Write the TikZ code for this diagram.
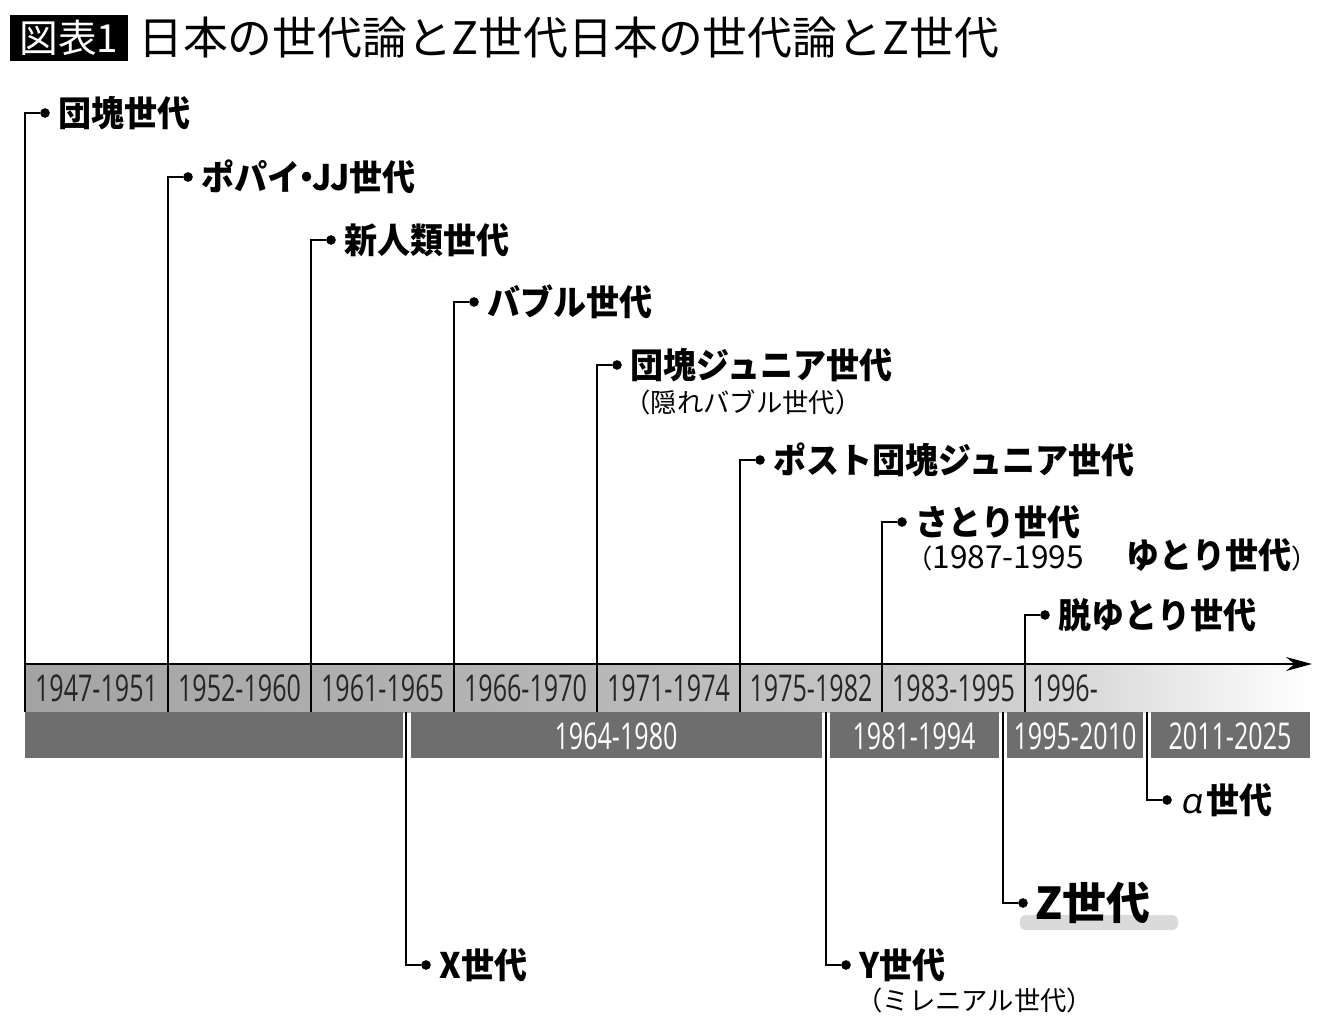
\documentclass[tikz,border=0pt]{standalone}
\usepackage{fontspec}
\usetikzlibrary{positioning,arrows.meta}
\newfontfamily\jp{Noto Sans CJK JP}
\newfontfamily\jpl[FakeStretch=0.94]{Noto Sans CJK JP}
\newfontfamily\yrfont[FakeStretch=0.68]{Open Sans}
\newfontfamily\grk[FakeSlant=0.18]{Noto Sans}
\definecolor{bardark}{HTML}{6E6E6E}
\definecolor{zmark}{HTML}{DADADA}
\pgfdeclarehorizontalshading{yrshade}{100bp}{color(0bp)=(black!36); color(25bp)=(black!36); color(45bp)=(black!29); color(60bp)=(black!22); color(65bp)=(black!17); color(75bp)=(white); color(100bp)=(white)}
\tikzset{
  gen/.style={anchor=west,inner sep=0pt,font=\jpl\bfseries\fontsize{20}{23}\selectfont},
  sub/.style={anchor=west,inner sep=0pt,font=\jp\fontsize{15}{18}\selectfont},
  yr/.style={inner sep=0pt,font=\yrfont\fontsize{21}{24}\selectfont},
  dot/.style={circle,fill=black,inner sep=0pt,minimum size=5.5pt},
  link/.style={line width=1.1pt}
}
\begin{document}
\begin{tikzpicture}[x=0.02cm,y=-0.02cm]
\useasboundingbox (0,0) rectangle (1340,1034);
% title
\node[fill=black,text=white,inner sep=0pt,
  minimum height=0.94cm,text width=2.36cm,align=center,
  font=\jp\fontsize{22}{25}\selectfont] (fig) at (69,38) {図表1};
\node[anchor=west,inner sep=0pt,font=\jp\fontsize{25.5}{30}\selectfont] (title) at (138,38) {日本の世代論とZ世代日本の世代論とZ世代};
% time bar
\shade[shading=yrshade] (25,664) rectangle (1310,712);
\foreach\a/\b in {25/403,411/822,830/999,1007/1143,1151/1310} {
  \fill[bardark] (\a,712) rectangle (\b,758);
}
\draw[link] (25,664) -- (25,712);
\draw[link,-{Stealth[length=26pt*0.02/0.0352,width=14pt*0.02/0.0352]}] (25,664) -- (1312,664);
\foreach\x/\t in {96.5/1947-1951,239.5/1952-1960,382.5/1961-1965,525.5/1966-1970,668.5/1971-1974,811/1975-1982,953.5/1983-1995} {
  \node[yr,text=black!85] at (\x,688) {\t};
}
\node[yr,anchor=west,text=black!85] (y96) at (1032,688) {1996-};
\foreach\x/\t in {616/1964-1980,914/1981-1994,1075/1995-2010,1230/2011-2025} {
  \node[yr,text=white] at (\x,736) {\t};
}
% generations above
\foreach\x/\y/\n/\t in {25/113/1/団塊世代,168/177/2/ポパイ{\kern-0.3em}・{\kern-0.3em}JJ世代,311/240/3/新人類世代,454/302/4/バブル世代,597/365/5/団塊ジュニア世代,740/460/6/ポスト団塊ジュニア世代,882/522/7/さとり世代,1025/615/8/脱ゆとり世代} {
  \coordinate (b\n) at (\x,712);
  \node[dot] (d\n) at (\x+20,\y) {};
  \node[gen,right=0.16cm of d\n] (g\n) {\t};
  \draw[link] (b\n) |- (d\n);
}
\node[sub] (s5) at (624,402) {（隠れバブル世代）};
\node[sub] (s7) at (906,555) {（{\fontsize{18}{22}\selectfont 1987-1995}\hspace{1.6em}{\jpl\bfseries\fontsize{20}{23}\selectfont ゆとり世代}）};
% generations below
\fill[zmark,rounded corners=7.5\pgflinewidth] (1020,915) rectangle (1178,930);
\foreach\x/\y/\n/\t in {406/965/x/X世代,826/965/y/Y世代,1147/800/a/{\grk\bfseries α\kern0.12em}世代} {
  \coordinate (b\n) at (\x,712);
  \node[dot] (d\n) at (\x+20,\y) {};
  \node[gen,right=0.16cm of d\n] (g\n) {\t};
  \draw[link] (b\n) |- (d\n);
}
\coordinate (bz) at (1003,712);
\node[dot] (dz) at (1023,903) {};
\node[gen,right=0.14cm of dz,font=\jp\bfseries\fontsize{25}{28}\selectfont] (gz) {Z世代};
\draw[link] (bz) |- (dz);
\node[sub] (sy) at (856,1000) {（ミレニアル世代）};
\end{tikzpicture}
\end{document}
